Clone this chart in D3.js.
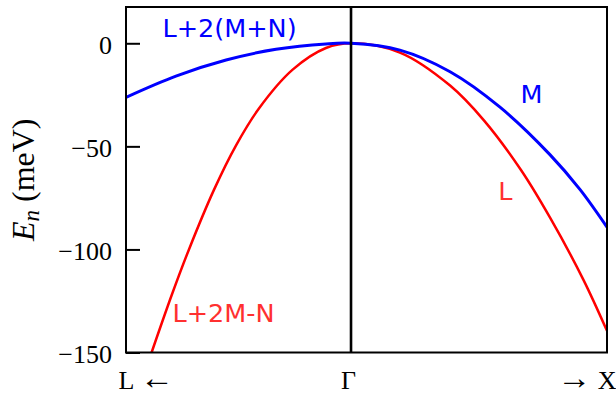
<!DOCTYPE html>
<html>
<head>
<meta charset="utf-8">
<script src="https://cdn.jsdelivr.net/npm/d3@7"></script>
<style>
  html, body { margin: 0; padding: 0; background: #fff; }
  svg { display: block; }
</style>
</head>
<body>
<div id="chart"></div>
<script>
// k runs from L (left, negative) through Gamma (0) to X (1)
const blueK = [-0.879, -0.684, -0.488, -0.293, -0.098, 0, 0.191, 0.387, 0.582, 0.777, 0.895, 1.0];
const blueE = [-26.2, -15.9, -8.1, -2.9, -0.3, 0, -3.3, -13.8, -31, -54, -71, -89.2];

const redK = [-0.779, -0.70, -0.633, -0.535, -0.449, -0.359, -0.228, -0.098, 0, 0.191, 0.387, 0.52, 0.664, 0.777, 0.907, 1.0];
const redE = [-150, -122, -100, -71, -49.5, -31.5, -12.8, -2.3, 0, -4.5, -20.5, -37.5, -61.5, -84.5, -114.5, -139.5];

const yTicks = [0, -50, -100, -150];
const xTicks = [-0.879, 0, 1];
const xTickLabels = [["L ", "\u2190"], ["\u0393"], ["\u2192", " X"]];

const W = 616, H = 394;
const plotL = 126, plotR = 607, plotT = 7, plotB = 352.5;

const svg = d3.select("#chart").append("svg")
    .attr("width", W)
    .attr("height", H);

const x = d3.scaleLinear().domain([-0.879, 1]).range([plotL, plotR]);
const y = d3.scaleLinear().domain([-150, 17.6]).range([plotB, plotT]);

// clip curves to the plot box
svg.append("clipPath").attr("id", "plotclip")
  .append("rect")
    .attr("x", plotL).attr("y", plotT)
    .attr("width", plotR - plotL).attr("height", plotB - plotT);

const line = d3.line()
    .x(d => x(d[0]))
    .y(d => y(d[1]))
    .curve(d3.curveCatmullRom.alpha(0.5));

const curves = svg.append("g").attr("clip-path", "url(#plotclip)");

curves.append("path")
    .datum(redK.map((k, i) => [k, redE[i]]))
    .attr("d", line)
    .attr("fill", "none")
    .attr("stroke", "#ff0000")
    .attr("stroke-width", 2.5);

curves.append("path")
    .datum(blueK.map((k, i) => [k, blueE[i]]))
    .attr("d", line)
    .attr("fill", "none")
    .attr("stroke", "#0000ff")
    .attr("stroke-width", 3);

// Gamma line
svg.append("line")
    .attr("x1", x(0)).attr("x2", x(0))
    .attr("y1", plotT).attr("y2", plotB)
    .attr("stroke", "#000")
    .attr("stroke-width", 2.6);

// y axis, ticks pointing inward
const yAxis = svg.append("g")
    .attr("transform", `translate(${plotL},0)`)
    .call(d3.axisLeft(y).tickValues(yTicks).tickSizeInner(-14).tickSizeOuter(0).tickPadding(14));
yAxis.select(".domain").remove();
yAxis.selectAll(".tick line").attr("stroke", "#000").attr("stroke-width", 2);
yAxis.selectAll(".tick text")
    .attr("font-family", "'Liberation Serif', serif")
    .attr("font-size", 26)
    .attr("fill", "#000")
    .attr("dy", "0.38em");

// x axis labels only (L <- , Gamma, -> X)
const xAxis = svg.append("g")
    .attr("transform", `translate(0,${plotB})`)
    .call(d3.axisBottom(x).tickValues(xTicks).tickSize(0).tickPadding(0)
        .tickFormat(() => ""));
xAxis.select(".domain").remove();
xAxis.selectAll(".tick text")
    .attr("font-family", "'Liberation Serif', serif")
    .attr("font-size", 26)
    .attr("fill", "#000")
    .attr("dy", null)
    .attr("y", 36)
    .attr("text-anchor", (d, i) => ["start", "middle", "end"][i])
    .attr("dx", (d, i) => [-8, -3, 9][i])
    .each(function(d, i) {
        const t = d3.select(this);
        xTickLabels[i].forEach(p => {
            const isArrow = p === "\u2190" || p === "\u2192";
            t.append("tspan")
                .attr("font-size", isArrow ? 34 : null)
                .text(p);
        });
    });

// frame
svg.append("rect")
    .attr("x", plotL).attr("y", plotT)
    .attr("width", plotR - plotL).attr("height", plotB - plotT)
    .attr("fill", "none")
    .attr("stroke", "#000")
    .attr("stroke-width", 2);

// y label: E_n (meV)
const ylab = svg.append("text")
    .attr("transform", `translate(34,${(plotT + plotB) / 2}) rotate(-90)`)
    .attr("text-anchor", "middle")
    .attr("font-family", "'Liberation Serif', serif")
    .attr("font-size", 32)
    .attr("fill", "#000");
ylab.append("tspan").attr("font-style", "italic").text("E");
ylab.append("tspan").attr("font-style", "italic").attr("font-size", 23).attr("dy", 5).text("n");
ylab.append("tspan").attr("dy", -5).text(" (meV)");

// curve annotations
const notes = [
    { text: "L+2(M+N)", x: 162.5, y: 37, color: "#0000ff" },
    { text: "L+2M-N", x: 172.5, y: 321.5, color: "#ff3030" },
    { text: "M", x: 520.5, y: 103.3, color: "#0000ff" },
    { text: "L", x: 498.3, y: 200, color: "#ff3030" }
];
svg.append("g").selectAll("text")
    .data(notes)
    .join("text")
    .attr("x", d => d.x)
    .attr("y", d => d.y)
    .attr("font-family", "'DejaVu Sans', sans-serif")
    .attr("font-size", 25.5)
    .attr("fill", d => d.color)
    .text(d => d.text);
</script>
</body>
</html>
